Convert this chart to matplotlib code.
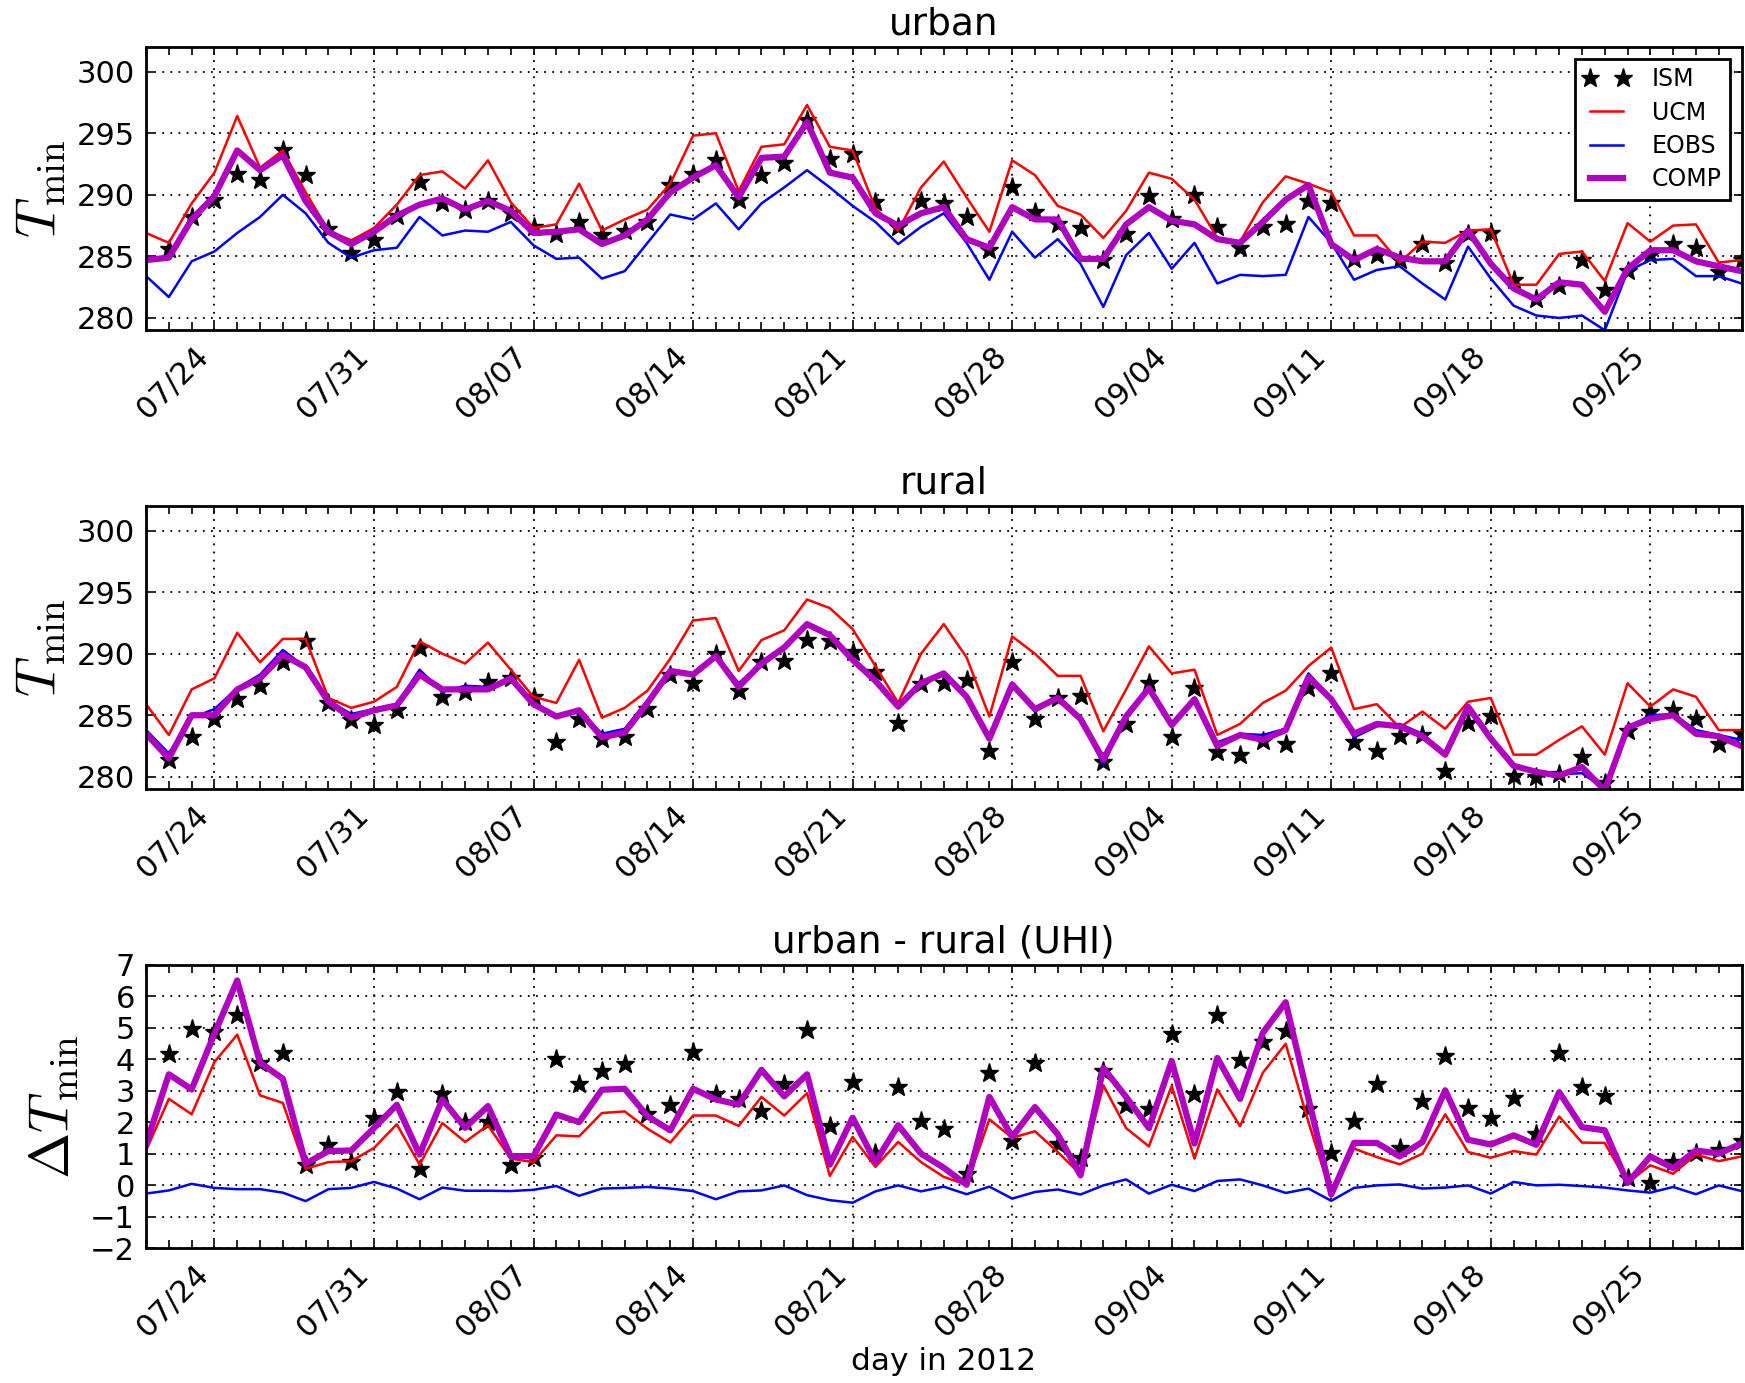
import numpy as np
import pandas as pd
import matplotlib
matplotlib.use('Agg')
import matplotlib.pyplot as plt
import matplotlib.dates as mdates

# daily values, 2012-07-21 .. 2012-09-29
days = pd.date_range('2012-07-21', '2012-09-29', freq='D')

# urban
urban_ism = [np.nan, 285.6, 288.2, 289.6, 291.7, 291.2, 293.6, 291.6, 287.2, 285.3, 286.3, 288.3, 291.0, 289.3, 288.8,
             289.5, 288.5, 287.4, 286.8, 287.8, 286.7, 287.1, 287.8, 290.8, 291.7, 292.8, 289.6, 291.6, 292.6, 296.1,
             292.9, 293.3, 289.4, 287.4, 289.5, 289.3, 288.2, 285.5, 290.6, 288.6, 287.6, 287.3, 284.7, 286.8, 289.9,
             288.0, 290.0, 287.4, 285.7, 287.4, 287.6, 289.5, 289.3, 284.8, 285.1, 284.7, 286.0, 284.5, 286.8, 286.9,
             283.1, 281.5, 282.6, 284.7, 282.3, 283.8, 285.1, 286.0, 285.7, 283.7, 284.7]
urban_ucm = [286.9, 286.1, 289.3, 291.8, 296.4, 292.2, 293.6, 290.2, 287.1, 286.3, 287.3, 289.2, 291.6, 291.9, 290.5,
             292.8, 289.4, 287.3, 287.6, 290.9, 287.1, 288.0, 288.8, 290.9, 294.8, 295.0, 290.3, 293.9, 294.1, 297.3,
             293.9, 293.6, 288.9, 287.1, 290.6, 292.7, 289.8, 287.0, 292.8, 291.6, 289.1, 288.4, 286.5, 288.7, 291.8,
             291.3, 289.6, 286.5, 286.2, 289.4, 291.5, 290.9, 290.2, 286.7, 286.7, 284.5, 286.2, 286.1, 287.1, 287.2,
             282.7, 282.7, 285.2, 285.4, 283.0, 287.7, 286.2, 287.5, 287.6, 284.5, 284.7]
urban_eobs = [283.4, 281.7, 284.6, 285.4, 286.9, 288.2, 290.0, 288.5, 286.1, 284.9, 285.5, 285.7, 288.2, 286.7, 287.1,
              287.0, 287.8, 285.9, 284.8, 284.9, 283.2, 283.8, 286.1, 288.4, 288.0, 289.3, 287.2, 289.3, 290.6, 292.0,
              290.6, 289.1, 287.8, 286.0, 287.4, 288.5, 286.1, 283.1, 287.0, 284.9, 286.4, 284.4, 280.9, 285.1, 286.9,
              284.0, 286.1, 282.8, 283.5, 283.4, 283.5, 288.2, 286.1, 283.1, 283.9, 284.2, 282.8, 281.5, 285.8, 283.2,
              281.0, 280.2, 280.0, 280.2, 279.0, 283.8, 284.7, 284.8, 283.4, 283.4, 282.8]
urban_comp = [284.7, 284.9, 288.0, 289.9, 293.6, 292.0, 293.2, 289.5, 287.0, 286.0, 287.0, 288.3, 289.2, 289.7, 288.8,
              289.5, 288.7, 286.9, 287.0, 287.2, 286.0, 286.7, 288.0, 290.2, 291.4, 292.4, 289.8, 293.0, 293.1, 295.9,
              291.8, 291.4, 288.5, 287.5, 288.5, 289.0, 286.4, 285.7, 289.0, 288.0, 288.0, 284.8, 284.8, 287.6, 289.0,
              287.9, 287.6, 286.4, 286.1, 287.8, 289.6, 290.8, 286.0, 284.7, 285.6, 284.9, 284.6, 284.6, 287.1, 284.4,
              282.4, 281.5, 282.9, 282.7, 280.5, 284.0, 285.5, 285.5, 284.6, 284.2, 283.8]

# rural
rural_ism = [np.nan, 281.4, 283.2, 284.7, 286.3, 287.4, 289.3, 291.0, 286.0, 284.6, 284.2, 285.4, 290.5, 286.5, 286.9,
             287.7, 288.0, 286.5, 282.8, 284.7, 283.1, 283.2, 285.5, 288.3, 287.6, 290.0, 287.0, 289.3, 289.4, 291.1,
             291.0, 290.1, 288.5, 284.4, 287.5, 287.6, 287.9, 282.1, 289.3, 284.7, 286.4, 286.6, 281.2, 284.3, 287.6,
             283.2, 287.2, 282.0, 281.8, 282.9, 282.7, 287.2, 288.4, 282.8, 282.1, 283.3, 283.4, 280.5, 284.4, 284.9,
             280.1, 280.0, 280.2, 281.6, 279.5, 283.7, 285.3, 285.4, 284.7, 282.7, 283.5]
rural_ucm = [285.9, 283.4, 287.1, 288.0, 291.7, 289.3, 291.2, 291.2, 286.4, 285.6, 286.1, 287.3, 291.0, 290.0, 289.2,
             290.9, 288.7, 286.5, 286.0, 289.5, 284.8, 285.6, 287.0, 289.6, 292.7, 292.9, 288.6, 291.1, 291.9, 294.4,
             293.7, 292.0, 289.0, 286.0, 290.0, 292.4, 289.7, 284.9, 291.4, 290.0, 288.2, 288.2, 283.7, 287.1, 290.6,
             288.4, 288.7, 283.4, 284.3, 286.0, 287.0, 289.0, 290.5, 285.5, 285.9, 284.0, 285.3, 283.9, 286.1, 286.4,
             281.8, 281.8, 283.0, 284.1, 281.8, 287.6, 285.7, 287.1, 286.5, 283.8, 283.8]
rural_eobs = [283.8, 281.9, 284.8, 285.5, 287.2, 288.3, 290.3, 288.9, 286.2, 285.1, 285.5, 285.9, 288.7, 286.9, 287.4,
              287.3, 288.0, 286.0, 284.9, 285.4, 283.5, 283.9, 286.2, 288.7, 288.3, 289.8, 287.6, 289.2, 290.6, 292.4,
              291.5, 289.4, 288.0, 285.8, 287.6, 288.4, 286.5, 283.1, 287.5, 285.3, 286.4, 284.7, 281.0, 284.9, 287.2,
              284.2, 286.3, 282.8, 283.5, 283.4, 283.9, 288.4, 286.4, 283.2, 284.1, 284.3, 283.5, 281.8, 285.8, 283.2,
              280.9, 280.4, 280.2, 280.3, 279.0, 284.0, 285.0, 285.1, 283.8, 283.4, 283.0]
rural_comp = [283.5, 281.5, 285.0, 285.0, 287.1, 288.0, 289.9, 288.9, 286.1, 284.8, 285.4, 285.8, 288.3, 287.1, 287.1,
              287.1, 288.0, 285.9, 284.9, 285.4, 283.2, 283.6, 286.0, 288.6, 288.3, 289.8, 287.3, 289.2, 290.5, 292.4,
              291.5, 289.5, 287.8, 285.7, 287.6, 288.4, 286.5, 283.1, 287.5, 285.5, 286.4, 284.7, 281.4, 284.9, 287.2,
              284.2, 286.3, 282.5, 283.4, 283.0, 283.8, 288.1, 286.3, 283.5, 284.3, 284.1, 283.3, 281.8, 285.7, 283.1,
              280.9, 280.4, 280.1, 280.8, 278.9, 284.0, 284.7, 285.0, 283.5, 283.3, 282.5]

# urban - rural (UHI)
uhi_ism = [np.nan, 4.15, 4.96, 4.86, 5.39, 3.89, 4.19, 0.65, 1.26, 0.73, 2.14, 2.95, 0.50, 2.90, 2.00,
           2.00, 0.65, 0.85, 4.01, 3.22, 3.61, 3.85, 2.27, 2.53, 4.22, 2.90, 2.74, 2.35, 3.22, 4.94,
           1.88, 3.27, 1.03, 3.11, 2.03, 1.79, 0.36, 3.56, 1.39, 3.87, 1.32, 0.87, 3.61, 2.53, 2.43,
           4.81, 2.90, 5.41, 3.96, 4.54, 4.89, 2.43, 1.02, 2.03, 3.22, 1.18, 2.66, 4.10, 2.46, 2.13,
           2.76, 1.63, 4.19, 3.13, 2.83, 0.24, 0.07, 0.73, 1.02, 1.10, 1.40]
uhi_ucm = [1.10, 2.74, 2.25, 3.91, 4.78, 2.85, 2.61, 0.52, 0.73, 0.76, 1.18, 1.93, 0.65, 1.97, 1.37,
           1.90, 0.84, 0.73, 1.58, 1.55, 2.29, 2.34, 1.79, 1.35, 2.21, 2.21, 1.88, 2.80, 2.21, 2.92,
           0.29, 1.53, 0.58, 1.37, 0.73, 0.26, 0.01, 2.09, 1.50, 1.71, 1.05, 0.34, 3.17, 1.81, 1.23,
           3.15, 0.84, 3.04, 1.87, 3.57, 4.49, 2.00, -0.30, 1.16, 0.89, 0.66, 1.00, 2.25, 1.05, 0.87,
           1.08, 0.97, 2.18, 1.35, 1.34, 0.07, 0.63, 0.36, 0.97, 0.76, 0.91]
uhi_eobs = [-0.27, -0.17, 0.04, -0.09, -0.13, -0.13, -0.24, -0.51, -0.13, -0.09, 0.10, -0.11, -0.45, -0.08, -0.18,
            -0.18, -0.19, -0.15, -0.03, -0.34, -0.11, -0.09, -0.06, -0.11, -0.19, -0.45, -0.20, -0.17, -0.01, -0.32,
            -0.48, -0.56, -0.20, -0.01, -0.20, -0.05, -0.29, -0.05, -0.43, -0.22, -0.14, -0.30, -0.01, 0.18, -0.27,
            0.01, -0.19, 0.13, 0.18, -0.01, -0.25, -0.11, -0.50, -0.09, -0.01, 0.02, -0.11, -0.08, -0.01, -0.27,
            0.10, -0.01, 0.01, -0.03, -0.08, -0.17, -0.24, -0.06, -0.29, -0.01, -0.19]
uhi_comp = [1.30, 3.52, 3.04, 4.81, 6.50, 3.89, 3.38, 0.68, 1.08, 1.10, 1.81, 2.55, 0.97, 2.72, 1.82,
            2.51, 0.92, 0.92, 2.24, 2.00, 3.03, 3.06, 2.19, 1.74, 3.06, 2.72, 2.56, 3.66, 2.82, 3.52,
            0.65, 2.14, 0.73, 1.90, 1.00, 0.55, 0.01, 2.80, 1.53, 2.48, 1.61, 0.31, 3.72, 2.80, 1.81,
            3.94, 1.32, 4.04, 2.74, 4.84, 5.81, 2.75, -0.30, 1.34, 1.34, 0.91, 1.37, 3.01, 1.44, 1.29,
            1.58, 1.28, 2.95, 1.84, 1.74, 0.07, 0.91, 0.54, 1.10, 1.00, 1.32]

plt.rcParams['mathtext.fontset'] = 'cm'
plt.rcParams['font.family'] = 'DejaVu Sans'

fig = plt.figure(figsize=(17.45, 13.83), dpi=100)
plt.subplots_adjust(left=0.0837, right=0.998, top=0.966, bottom=0.0976, hspace=0.62)

panels = [
    ('urban', r'$T_{\rm min}$', urban_ism, urban_ucm, urban_eobs, urban_comp, (279, 302), [280, 285, 290, 295, 300]),
    ('rural', r'$T_{\rm min}$', rural_ism, rural_ucm, rural_eobs, rural_comp, (279, 302), [280, 285, 290, 295, 300]),
    ('urban - rural (UHI)', r'$\Delta T_{\rm min}$', uhi_ism, uhi_ucm, uhi_eobs, uhi_comp, (-2, 7), list(range(-2, 8))),
]

for k, (title, ylab, ism, ucm, eobs, comp, ylim, yticks) in enumerate(panels):
    ax = fig.add_subplot(3, 1, k + 1)
    ax.plot(days, ism, 'k*', markersize=14, linestyle='None', label='ISM')
    ax.plot(days, ucm, color='#ff0000', linewidth=1.8, label='UCM')
    ax.plot(days, eobs, color='#0000ff', linewidth=1.8, label='EOBS')
    ax.plot(days, comp, color='#b000c0', linewidth=4.5, label='COMP')

    ax.set_xlim(days[0], days[-1])
    ax.set_ylim(*ylim)
    ax.set_yticks(yticks)
    ax.xaxis.set_major_locator(mdates.WeekdayLocator(byweekday=mdates.TU))
    ax.xaxis.set_minor_locator(mdates.DayLocator())
    ax.xaxis.set_major_formatter(mdates.DateFormatter('%m/%d'))

    ax.grid(True, which='major', linestyle=(0, (1, 3.5)), color='k', linewidth=1.3)
    ax.tick_params(which='both', direction='in', top=True, right=True, width=1.2)
    ax.tick_params(which='major', length=6, labelsize=22, pad=8)
    ax.tick_params(which='minor', length=6)
    for s in ax.spines.values():
        s.set_linewidth(2)
    plt.setp(ax.get_xticklabels(), rotation=45, ha='right', rotation_mode='default')

    ax.set_title(title, fontsize=27, pad=9)
    ax.set_ylabel(ylab, fontsize=40, labelpad=6)

    if k == 0:
        leg = ax.legend(loc='upper right', numpoints=2, fontsize=17, fancybox=False,
                        framealpha=1, edgecolor='k', borderpad=0.35, labelspacing=0.4,
                        handlelength=2.0, handletextpad=0.9, borderaxespad=0.5)
        leg.get_frame().set_linewidth(2)
    if k == 2:
        ax.set_xlabel('day in 2012', fontsize=22.5, labelpad=4)

plt.savefig('out.png', dpi=100)
